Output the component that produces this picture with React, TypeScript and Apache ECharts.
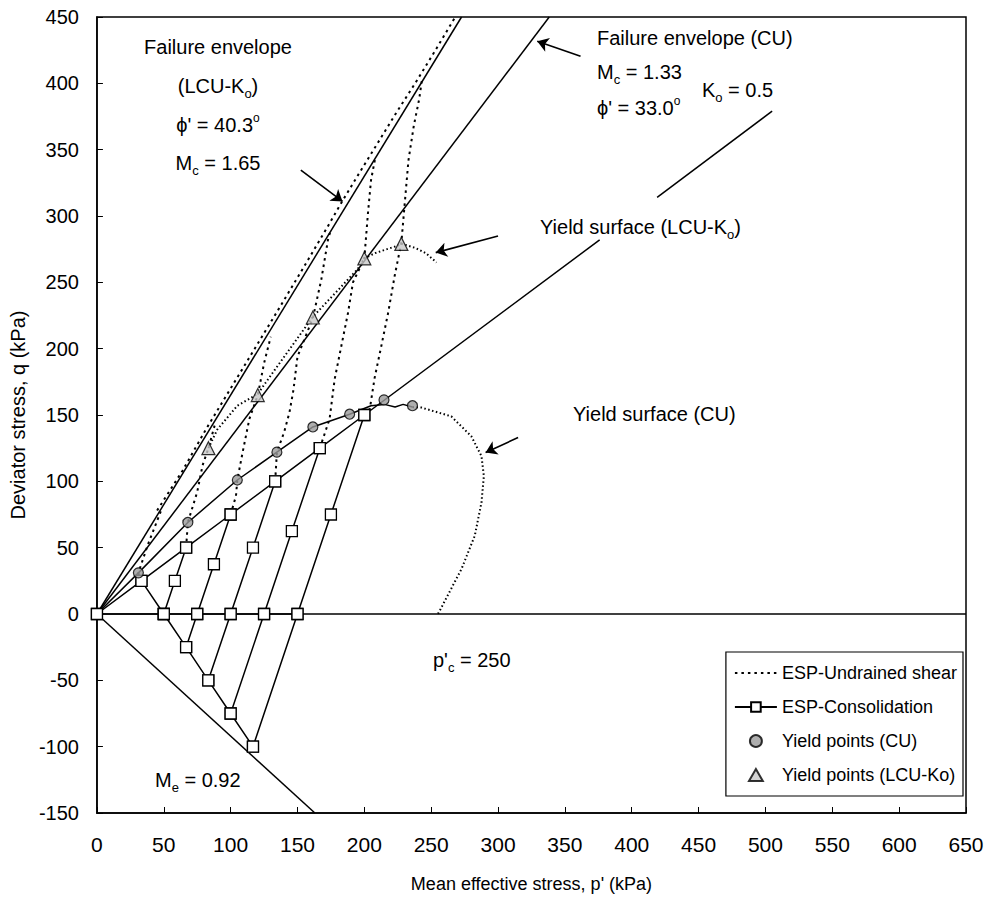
import React, { useEffect, useRef } from "react";
import * as echarts from "echarts";

const FONT = "'Liberation Sans', Arial, Helvetica, sans-serif";

// Axis ranges
const xMin = 0, xMax = 650, xStep = 50;
const yMin = -150, yMax = 450, yStep = 50;

// Reference lines
const failureLCU = [[0, 0], [272.7, 450]];
const failureCU = [[0, 0], [338.3, 450]];
const koLineA = [[200, 150], [376, 282]];
const koLineB = [[419, 314], [505, 379]];
const zeroLine = [[0, 0], [650, 0]];
const meLine = [[0, 0], [163, -150]];

// ESP-Consolidation paths (squares)
const koPath = [[0, 0], [33.3, 25], [66.7, 50], [100, 75], [133.3, 100], [166.7, 125], [200, 150]];
const isoPath = [[0, 0], [50, 0], [75, 0], [100, 0], [125, 0], [150, 0]];
const extPath = [[33.3, 25], [50, 0], [66.7, -25], [83.3, -50], [100, -75], [116.7, -100]];
const comp1 = [[50, 0], [58.3, 25], [66.7, 50]];
const comp2 = [[66.7, -25], [75, 0], [87.5, 37.5], [100, 75]];
const comp3 = [[83.3, -50], [100, 0], [116.7, 50], [133.3, 100]];
const comp4 = [[100, -75], [125, 0], [145.8, 62.5], [166.7, 125]];
const comp5 = [[116.7, -100], [150, 0], [175, 75], [200, 150]];

// ESP-Undrained shear paths (dotted)
const und0 = [[33.3, 25], [31, 31], [38, 52], [48, 78]];
const und1 = [[66.7, 50], [68, 69], [75, 92], [79, 112], [83.4, 125], [88, 142]];
const und2 = [[100, 75], [104, 89], [105, 101], [109, 122], [114, 147], [120.3, 165], [125, 189], [130, 209]];
const und3 = [[133.3, 100], [134.6, 122], [140, 137], [144, 152], [147, 169], [150, 194], [161.5, 223], [167.8, 252], [172.8, 282], [175, 290]];
const und4 = [[166.7, 125], [174, 147], [177.8, 177], [182.8, 202], [187.8, 227], [191.5, 250], [200, 268], [202.7, 302], [205, 327], [208, 343]];
const und5 = [[200, 150], [204, 154], [207.7, 178], [212.7, 202], [217.8, 227], [222.7, 255], [227.7, 280], [230, 307], [233, 342], [237, 368], [241, 388], [243, 402]];
const envTrace = [[45, 78], [64, 108], [82, 140], [100, 170], [118, 200], [136, 230], [155, 262], [172, 291], [184, 312], [196, 332], [210, 355], [224, 378], [238, 400], [252, 423], [268, 450]];

// Yield surfaces
const cuYieldSolid = [[0, 0], [31, 31], [68, 69], [105, 101], [134.6, 122], [161.5, 141], [189, 150.6], [205, 157], [215, 158], [223, 156], [229, 158], [236, 156]];
const cuYieldDotted = [[236, 156], [242.7, 155.6], [265, 149], [280, 134], [287.6, 119], [289.4, 104], [287.6, 84], [282.6, 59], [272.7, 34], [256.4, 2.5], [255, 0]];
const lcuYieldDotted = [[83.4, 125], [90, 139], [105, 157], [120.3, 166], [133, 184], [161.5, 224], [183, 247], [195, 260], [200, 268], [208, 272], [223, 277], [228, 279], [238, 276], [246, 272], [254, 265]];

// Yield points
const cuYieldPoints = [[31, 31], [68, 69], [105, 101], [134.6, 122], [161.5, 141], [189, 150.6], [214.7, 161.4], [236, 157]];
const lcuYieldPoints = [[83.4, 125], [120.3, 165], [161.5, 223.5], [200, 268], [227.7, 279]];

// Annotation arrows (data coordinates: start -> tip)
const arrows = [
  [[152.5, 334.5], [183.7, 311]],
  [[361.7, 420.4], [329.3, 431.7]],
  [[300, 285], [253.4, 272.4]],
  [[315, 133], [290.7, 121.8]],
];

const legendNames = ["ESP-Undrained shear", "ESP-Consolidation", "Yield points (CU)", "Yield points (LCU-Ko)"];

const RICH = {
  n: { fontSize: 20, lineHeight: 27, fontFamily: FONT, color: "#000" },
  s: { fontSize: 13, lineHeight: 13, verticalAlign: "bottom", fontFamily: FONT, color: "#000" },
  p: { fontSize: 12, lineHeight: 12, verticalAlign: "top", fontFamily: FONT, color: "#000" },
};

function txt(text: string, x: number, y: number, align = "left") {
  return {
    type: "text",
    x,
    y,
    silent: true,
    z: 100,
    style: {
      text,
      rich: RICH,
      align,
      verticalAlign: "middle",
      fill: "#000",
      font: `20px ${FONT}`,
    },
  };
}

export default function App() {
  const ref = useRef<HTMLDivElement>(null);
  useEffect(() => {
    document.body.style.margin = "0";
    if (!ref.current) return;
    const chart = echarts.init(ref.current, undefined, { renderer: "svg" });
    const solid = (data: number[][]) => ({
      type: "line",
      data,
      symbol: "none",
      silent: true,
      lineStyle: { color: "#000", width: 1.5 },
      z: 2,
    });
    const cons = (data: number[][]) => ({
      type: "line",
      name: "ESP-Consolidation",
      data,
      symbol: "rect",
      symbolSize: 11,
      showAllSymbol: true,
      itemStyle: { color: "#fff", borderColor: "#000", borderWidth: 1.3 },
      lineStyle: { color: "#000", width: 1.5 },
      z: 4,
    });
    const und = (data: number[][]) => ({
      type: "line",
      name: "ESP-Undrained shear",
      data,
      symbol: "none",
      itemStyle: { color: "#000" },
      lineStyle: { color: "#000", width: 2, type: [2.5, 4] },
      z: 3,
    });
    const fine = (data: number[][]) => ({
      type: "line",
      data,
      symbol: "none",
      silent: true,
      lineStyle: { color: "#000", width: 2, type: [1.5, 2.5] },
      z: 3,
    });

    chart.setOption({
      animation: false,
      backgroundColor: "#fff",
      textStyle: { fontFamily: FONT },
      grid: { left: 96, right: 40, top: 17, bottom: 95, show: true, borderColor: "#000", borderWidth: 1.5, backgroundColor: "transparent" },
      xAxis: {
        type: "value",
        min: xMin,
        max: xMax,
        interval: xStep,
        name: "Mean effective stress, p' (kPa)",
        nameLocation: "middle",
        nameGap: 62,
        nameTextStyle: { fontSize: 18, color: "#000", fontFamily: FONT },
        axisLine: { show: true, onZero: false, lineStyle: { color: "#000", width: 1.5 } },
        axisTick: { show: true, inside: true, length: 6, lineStyle: { color: "#000" } },
        axisLabel: { fontSize: 21, color: "#000", margin: 21, fontFamily: FONT },
        splitLine: { show: false },
      },
      yAxis: {
        type: "value",
        min: yMin,
        max: yMax,
        interval: yStep,
        name: "Deviator stress, q (kPa)",
        nameLocation: "middle",
        nameGap: 66,
        nameTextStyle: { fontSize: 20, color: "#000", fontFamily: FONT },
        axisLine: { show: true, onZero: false, lineStyle: { color: "#000", width: 1.5 } },
        axisTick: { show: true, inside: true, length: 6, lineStyle: { color: "#000" } },
        axisLabel: { fontSize: 20, color: "#000", margin: 18, fontFamily: FONT },
        splitLine: { show: false },
      },
      legend: {
        data: [
          { name: legendNames[0], itemStyle: { opacity: 0 } },
          { name: legendNames[1] },
          { name: legendNames[2] },
          { name: legendNames[3], icon: "path://M6,0L12,10.4L0,10.4Z" },
        ],
        orient: "vertical",
        right: 43,
        bottom: 112,
        backgroundColor: "#fff",
        borderColor: "#000",
        borderWidth: 1.2,
        borderRadius: 0,
        padding: [12, 6, 12, 8],
        itemGap: 16,
        itemWidth: 42,
        itemHeight: 12,
        symbolKeepAspect: true,
        selectedMode: false,
        textStyle: { fontSize: 18, color: "#000", fontFamily: FONT },
      },
      series: [
        solid(failureLCU),
        solid(failureCU),
        solid(koLineA),
        solid(koLineB),
        solid(zeroLine),
        solid(meLine),
        solid(cuYieldSolid),
        fine(cuYieldDotted),
        fine(lcuYieldDotted),
        und(und0),
        und(und1),
        und(und2),
        und(und3),
        und(und4),
        und(und5),
        und(envTrace),
        cons(koPath),
        cons(isoPath),
        cons(extPath),
        cons(comp1),
        cons(comp2),
        cons(comp3),
        cons(comp4),
        cons(comp5),
        {
          type: "scatter",
          name: "Yield points (CU)",
          data: cuYieldPoints,
          symbol: "circle",
          symbolSize: 10,
          itemStyle: { color: "#9a9a9a", borderColor: "#000", borderWidth: 1.2 },
          z: 6,
        },
        {
          type: "scatter",
          name: "Yield points (LCU-Ko)",
          data: lcuYieldPoints,
          symbol: "triangle",
          symbolSize: 13,
          itemStyle: { color: "#c8c8c8", borderColor: "#000", borderWidth: 1.2 },
          z: 6,
        },
        {
          type: "lines",
          coordinateSystem: "cartesian2d",
          silent: true,
          symbol: ["none", "arrow"],
          symbolSize: 11,
          lineStyle: { color: "#000", width: 1.6, opacity: 1 },
          data: arrows.map((c) => ({ coords: c })),
          z: 7,
        },
      ],
      graphic: [
        txt("{n|Failure envelope}", 218, 47, "center"),
        txt("{n|(LCU-K}{s|o}{n|)}", 218, 86, "center"),
        txt("{n|ϕ' = 40.3}{p|o}", 218, 125, "center"),
        txt("{n|M}{s|c}{n| = 1.65}", 218, 163, "center"),
        txt("{n|Failure envelope (CU)}", 597, 38),
        txt("{n|M}{s|c}{n| = 1.33}", 597, 72),
        txt("{n|ϕ' = 33.0}{p|o}", 597, 108),
        txt("{n|K}{s|o}{n| = 0.5}", 702, 90),
        txt("{n|Yield surface (LCU-K}{s|o}{n|)}", 540, 227),
        txt("{n|Yield surface (CU)}", 573, 414),
        txt("{n|p'}{s|c}{n| = 250}", 433, 660),
        txt("{n|M}{s|e}{n| = 0.92}", 155, 780),
      ],
    });
    return () => chart.dispose();
  }, []);
  return <div ref={ref} style={{ width: 1006, height: 908 }} />;
}
